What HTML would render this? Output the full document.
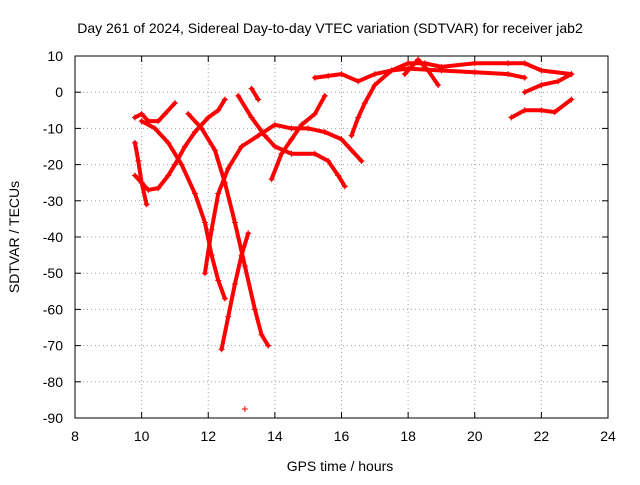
<!DOCTYPE html>
<html><head><meta charset="utf-8"><style>
body{margin:0;background:#fff;}
svg text{font-family:"Liberation Sans",sans-serif;font-size:14px;fill:#000;}
</style></head><body>
<svg id="chart" width="640" height="480" xmlns="http://www.w3.org/2000/svg">
<rect width="640" height="480" fill="#fff"/>
<text x="330" y="33" text-anchor="middle">Day 261 of 2024, Sidereal Day-to-day VTEC variation (SDTVAR) for receiver jab2</text>
<text x="340" y="471" text-anchor="middle">GPS time / hours</text>
<text transform="translate(19,237) rotate(-90)" text-anchor="middle">SDTVAR / TECUs</text>
<g id="grid"></g><g id="ticks"></g><g id="marks"></g>
<rect x="75" y="56" width="533" height="362" fill="none" stroke="#000" stroke-width="1"/>
</svg>
<script>
const xTicks=[8,10,12,14,16,18,20,22,24];
const yTicks=[10,0,-10,-20,-30,-40,-50,-60,-70,-80,-90];
const t1=[[9.8,-14],[9.9,-19],[10,-25],[10.15,-31]];
const t2=[[9.8,-23],[10,-25],[10.2,-27],[10.5,-26.5],[10.8,-23],[11,-20],[11.3,-15],[11.6,-11],[12,-7],[12.3,-5],[12.5,-2]];
const t3=[[9.8,-7],[10,-6],[10.2,-8],[10.5,-8],[10.7,-6],[11,-3]];
const t4=[[10,-8],[10.4,-10],[10.8,-14],[11.2,-20],[11.6,-28],[11.9,-36],[12.1,-45],[12.3,-52],[12.5,-57]];
const t5=[[11.4,-6],[11.8,-10],[12.2,-16],[12.5,-25],[12.8,-36],[13.1,-48],[13.4,-60],[13.6,-67],[13.8,-70]];
const t6=[[11.9,-50],[12.1,-38],[12.3,-28],[12.6,-21],[13,-15],[13.5,-12],[14,-9],[14.5,-10],[15,-10],[15.5,-11],[16,-13],[16.3,-16],[16.6,-19]];
const t7=[[12.4,-71],[12.6,-62],[12.8,-53],[13,-45],[13.2,-39]];
const t8=[[12.9,-1],[13.3,-7],[13.7,-12],[14,-15],[14.5,-17],[15.2,-17],[15.6,-19],[15.9,-23],[16.1,-26]];
const t9=[[13.3,1],[13.5,-2]];
const t10=[[13.9,-24],[14.2,-17],[14.5,-13],[14.8,-9],[15.2,-6],[15.5,-1]];
const t11=[[15.2,4],[15.6,4.5],[16,5],[16.5,3],[17,5],[17.5,6],[18,6.5],[19,6],[20,5.5],[21,5],[21.5,4]];
const t12=[[16.3,-12],[16.5,-7],[16.7,-3],[17,2],[17.5,6],[18,8],[18.5,8],[19,7],[20,8],[21,8],[21.5,8],[22,6],[22.9,5]];
const t13=[[17.9,5],[18.3,9],[18.6,6],[18.9,2]];
const t14=[[21.1,-7],[21.5,-5],[22,-5],[22.4,-5.5],[22.9,-2]];
const t15=[[21.5,0],[22,2],[22.5,3],[22.9,5]];
const t16=[[13.1,-87.5]];
const tracks=[t1,t2,t3,t4,t5,t6,t7,t8,t9,t10,t11,t12,t13,t14,t15,t16];
const NS="http://www.w3.org/2000/svg";
const X=v=>75+(v-8)*533/16, Y=v=>56+(10-v)*362/100;
const grid=document.getElementById('grid'),ticks=document.getElementById('ticks'),marks=document.getElementById('marks');
function mk(tag,attrs,parent){const e=document.createElementNS(NS,tag);for(const k in attrs)e.setAttribute(k,attrs[k]);parent.appendChild(e);return e;}
xTicks.forEach(v=>{const x=X(v);
 if(v>8&&v<24){const g=mk('line',{x1:x,x2:x,y1:56,y2:418,stroke:'#a0a0a0','stroke-dasharray':'1,3'},grid);}
 mk('line',{x1:x,x2:x,y1:418,y2:412,stroke:'#000'},ticks);mk('line',{x1:x,x2:x,y1:56,y2:62,stroke:'#000'},ticks);
 const t=mk('text',{x:x,y:441,'text-anchor':'middle'},ticks);t.textContent=v;
 });
yTicks.forEach(v=>{const y=Y(v);
 if(v<10&&v>-90){const g=mk('line',{x1:75,x2:608,y1:y,y2:y,stroke:'#a0a0a0','stroke-dasharray':'1,3'},grid);}
 mk('line',{x1:75,x2:81,y1:y,y2:y,stroke:'#000'},ticks);mk('line',{x1:608,x2:602,y1:y,y2:y,stroke:'#000'},ticks);
 const t=mk('text',{x:63,y:y+5,'text-anchor':'end'},ticks);t.textContent=v;
 });
tracks.forEach((tr,i)=>{
 const g=mk('g',{},marks);
 
 
 if(tr.length>1){mk('polyline',{points:tr.map(p=>X(p[0])+','+Y(p[1])).join(' '),fill:'none',stroke:'#f00','stroke-width':4,'stroke-linejoin':'round','stroke-linecap':'round'},g);}
 tr.forEach(p=>{const x=X(p[0]),y=Y(p[1]);
  mk('path',{d:`M${x-3},${y}h6M${x},${y-3}v6`,stroke:'#f00','stroke-width':1},g);});
});
</script>
</body></html>
